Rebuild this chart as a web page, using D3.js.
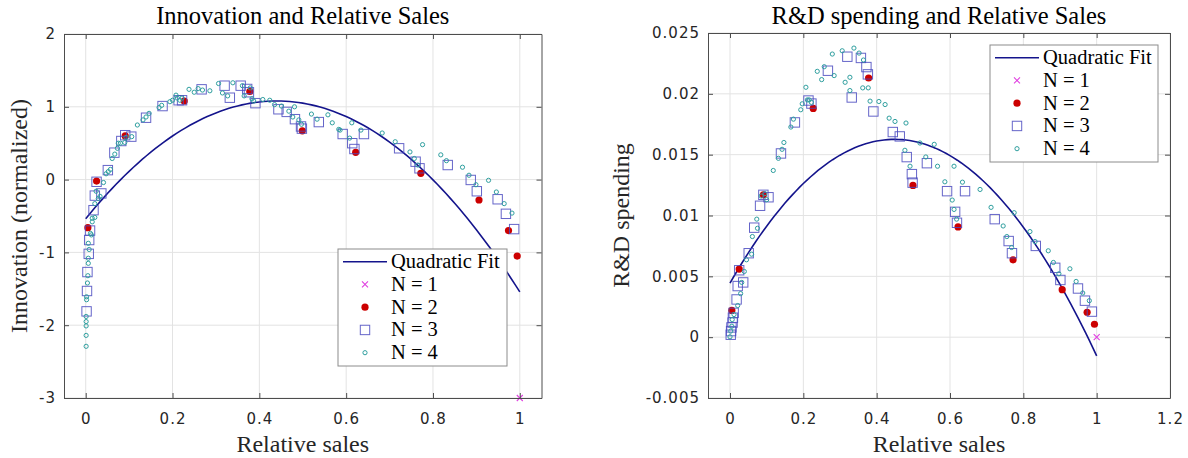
<!DOCTYPE html>
<html>
<head>
<meta charset="utf-8">
<script src="https://cdnjs.cloudflare.com/ajax/libs/d3/7.8.5/d3.min.js"></script>
<style>
  body { margin: 0; background: #fff; }
  svg { display: block; }
</style>
</head>
<body>
<svg id="root" width="1188" height="458"></svg>
<script>
// N = 1 / N = 2 / N = 3 firms (same relative sales in both panels)
const n1Sales = [1]
const n1Innov = [-3]
const n1RD = [0]

const n2Sales = [0.005, 0.025, 0.091, 0.227, 0.378, 0.499, 0.622, 0.772, 0.906, 0.974, 0.994]
const n2Innov = [-0.66, -0.02, 0.6, 1.08, 1.21, 0.67, 0.375, 0.086, -0.28, -0.7, -1.05]
const n2RD = [0.0022, 0.0056, 0.0117, 0.0188, 0.0213, 0.01247, 0.00906, 0.00636, 0.0039, 0.00205, 0.00106]

const n3Sales = [0.002, 0.003, 0.004, 0.007, 0.008, 0.01, 0.018, 0.021, 0.025, 0.036, 0.051, 0.066, 0.082, 0.091, 0.105,
  0.139, 0.177, 0.214, 0.222, 0.267, 0.32, 0.332, 0.357, 0.372, 0.376, 0.391, 0.444, 0.463, 0.482, 0.496, 0.498,
  0.537, 0.592, 0.614, 0.619, 0.641, 0.722, 0.76, 0.769, 0.834, 0.887, 0.901, 0.949, 0.968, 0.987]
const n3Innov = [-1.81, -1.53, -1.27, -1.02, -0.83, -0.7, -0.42, -0.22, -0.03, -0.19, 0.13, 0.37, 0.53, 0.61, 0.59,
  0.85, 1.01, 1.09, 1.09, 1.24, 1.29, 1.125, 1.29, 1.245, 1.2, 1.05, 0.966, 0.93, 0.83, 0.73, 0.7,
  0.79, 0.626, 0.5, 0.42, 0.626, 0.43, 0.246, 0.155, 0.2, -0.005, -0.16, -0.27, -0.47, -0.68]
const n3RD = [0.0002, 0.0005, 0.0008, 0.0012, 0.0016, 0.002, 0.0031, 0.0042, 0.0055, 0.0045, 0.0069, 0.009, 0.0108, 0.0117, 0.0115,
  0.0151, 0.01765, 0.01945, 0.0192, 0.0219, 0.02305, 0.0197, 0.02295, 0.0222, 0.0216, 0.01855, 0.01686, 0.0165, 0.0148, 0.0134, 0.0127,
  0.0143, 0.012, 0.0103, 0.0094, 0.012, 0.0097, 0.0079, 0.0069, 0.0075, 0.0057, 0.0047, 0.004, 0.003, 0.0021]

// N = 4 firms, left panel
const n4SalesL = [0.001, 0.001, 0.001, 0.001, 0.001, 0.002, 0.002, 0.004, 0.005, 0.006, 0.006, 0.008, 0.006, 0.011, 0.013,
  0.015, 0.021, 0.015, 0.021, 0.024, 0.029, 0.033, 0.041, 0.047, 0.052, 0.057, 0.061, 0.067, 0.073, 0.075, 0.08, 0.09,
  0.093, 0.106, 0.119, 0.132, 0.139, 0.146, 0.169, 0.175, 0.194, 0.2, 0.208, 0.211, 0.217, 0.222, 0.238, 0.25, 0.259,
  0.269, 0.286, 0.306, 0.315, 0.327, 0.339, 0.361, 0.365, 0.379, 0.383, 0.387, 0.408, 0.424, 0.435, 0.451, 0.468, 0.481,
  0.477, 0.491, 0.497, 0.52, 0.533, 0.558, 0.568, 0.583, 0.586, 0.608, 0.613, 0.634, 0.683, 0.713, 0.747, 0.757, 0.765,
  0.776, 0.818, 0.831, 0.868, 0.883, 0.899, 0.928, 0.946, 0.964, 0.982]
const n4Innov = [-2.29, -2.14, -2.01, -1.95, -1.88, -1.65, -1.61, -1.42, -1.32, -1.15, -1.08, -0.96, -0.875, -0.74, -0.76,
  -0.58, -0.52, -0.53, -0.33, -0.16, -0.26, -0.23, -0.04, 0.08, 0.11, 0.14, 0.29, 0.35, 0.43, 0.5, 0.5, 0.51,
  0.58, 0.59, 0.75, 0.82, 0.86, 0.91, 0.99, 1.02, 1.07, 1.09, 1.16, 1.12, 1.09, 1.12, 1.24, 1.2, 1.25,
  1.23, 1.22, 1.32, 1.19, 1.15, 1.33, 1.29, 1.15, 1.26, 1.11, 1.08, 1.1, 1.09, 1.03, 1.01, 0.94, 1.0,
  0.86, 0.82, 0.76, 0.9, 0.83, 0.89, 0.78, 0.69, 0.68, 0.57, 0.78, 0.68, 0.64, 0.52, 0.38, 0.29, 0.2,
  0.48, 0.34, 0.26, 0.17, 0.06, -0.07, -0.01, -0.17, -0.33, -0.46]

// N = 4 firms, right panel
const n4SalesR = [0.0, 0.002, 0.005, 0.006, 0.011, 0.021, 0.029, 0.032, 0.039, 0.045, 0.059, 0.061, 0.075, 0.073, 0.085,
  0.095, 0.1, 0.118, 0.132, 0.142, 0.147, 0.166, 0.173, 0.193, 0.197, 0.207, 0.211, 0.216, 0.222, 0.238, 0.25, 0.257,
  0.279, 0.284, 0.306, 0.314, 0.327, 0.327, 0.338, 0.352, 0.364, 0.362, 0.377, 0.382, 0.406, 0.423, 0.434, 0.45, 0.48,
  0.518, 0.557, 0.477, 0.491, 0.534, 0.566, 0.611, 0.586, 0.634, 0.682, 0.606, 0.611, 0.618, 0.712, 0.745, 0.755,
  0.768, 0.775, 0.818, 0.832, 0.868, 0.882, 0.897, 0.927, 0.944, 0.962, 0.98]
const n4RD = [0.00003, 0.0005, 0.0009, 0.00145, 0.00186, 0.0026, 0.00358, 0.0045, 0.0054, 0.00636, 0.00682, 0.00827, 0.00895, 0.0097, 0.0116,
  0.0118, 0.0113, 0.0137, 0.0147, 0.01544, 0.016, 0.01727, 0.01792, 0.01869, 0.01918, 0.02054, 0.0195, 0.0195, 0.0193, 0.02185, 0.02117, 0.02223,
  0.02327, 0.0215, 0.02354, 0.02095, 0.02136, 0.02027, 0.02376, 0.02335, 0.02278, 0.02049, 0.02049, 0.0194, 0.01937, 0.01912, 0.018, 0.01773, 0.0176,
  0.01596, 0.01585, 0.01536, 0.01405, 0.01481, 0.01405, 0.01405, 0.01277, 0.01274, 0.01214, 0.01127, 0.0105, 0.0097, 0.01067, 0.00914, 0.00827,
  0.00737, 0.01023, 0.00868, 0.00786, 0.0071, 0.00614, 0.00521, 0.00562, 0.00458, 0.00363, 0.003]

// quadratic fit coefficients [a, b, c]: y = a + b x + c x^2
const fitInnov = [-0.5385, 7.357, -8.36]
const fitRD = [0.004446, 0.05262, -0.0586]

const xTicksL = [0, 0.2, 0.4, 0.6, 0.8, 1]
const yTicksL = [-3, -2, -1, 0, 1, 2]
const xTicksR = [0, 0.2, 0.4, 0.6, 0.8, 1, 1.2]
const yTicksR = [-0.005, 0, 0.005, 0.01, 0.015, 0.02, 0.025]

const legendLabels = ['Quadratic Fit', 'N = 1', 'N = 2', 'N = 3', 'N = 4']

const serif = '"Liberation Serif", "DejaVu Serif", serif'
const sans = '"DejaVu Sans", "Liberation Sans", sans-serif'
const colFit = '#14148c'
const colN1 = '#e040e0'
const colN2 = '#cc0000'
const colN3 = '#4a4ac0'
const colN4 = '#2f9f9f'

let root = d3.select('#root')

const zip = (xs, ys) => xs.map((x, i) => [x, ys[i]])

function drawMarker (g, kind, cx, cy) {
  if (kind === 'n1') {
    g.append('path')
      .attr('d', `M${cx - 3},${cy - 3}L${cx + 3},${cy + 3}M${cx - 3},${cy + 3}L${cx + 3},${cy - 3}`)
      .attr('stroke', colN1).attr('stroke-width', 1.1).attr('fill', 'none')
  } else if (kind === 'n2') {
    g.append('circle').attr('cx', cx).attr('cy', cy).attr('r', 3.6).attr('fill', colN2)
  } else if (kind === 'n3') {
    g.append('rect').attr('x', cx - 4.7).attr('y', cy - 4.7).attr('width', 9.4).attr('height', 9.4)
      .attr('fill', 'none').attr('stroke', colN3).attr('stroke-width', 1).attr('stroke-opacity', 0.85)
  } else {
    g.append('circle').attr('cx', cx).attr('cy', cy).attr('r', 2.1)
      .attr('fill', 'none').attr('stroke', colN4).attr('stroke-width', 1)
  }
}

function drawPanel (p) {
  let x = d3.scaleLinear().domain(p.xDomain).range([p.left, p.right])
  let y = d3.scaleLinear().domain(p.yDomain).range([p.bottom, p.top])
  let g = root.append('g')

  // grid
  g.selectAll('.gx').data(p.xTicks).enter().append('line')
    .attr('x1', (d) => x(d)).attr('x2', (d) => x(d))
    .attr('y1', p.top).attr('y2', p.bottom)
    .attr('stroke', '#e3e3e3').attr('stroke-width', 1)
  g.selectAll('.gy').data(p.yTicks).enter().append('line')
    .attr('x1', p.left).attr('x2', p.right)
    .attr('y1', (d) => y(d)).attr('y2', (d) => y(d))
    .attr('stroke', '#e3e3e3').attr('stroke-width', 1)

  // fit line
  let xs = d3.range(0, 1.0001, 0.01)
  let c = p.fit
  g.append('path')
    .datum(xs.map((v) => [v, c[0] + c[1] * v + c[2] * v * v]))
    .attr('d', d3.line().x((d) => x(d[0])).y((d) => y(d[1])))
    .attr('fill', 'none').attr('stroke', colFit).attr('stroke-width', 1.6)

  // points
  p.series.forEach((s) => {
    zip(s.xs, s.ys).forEach((d) => drawMarker(g, s.kind, x(d[0]), y(d[1])))
  })

  // axes (ticks inward, on all four sides)
  let fmt = (d) => String(d)
  let axB = g.append('g').attr('transform', `translate(0,${p.bottom})`)
    .call(d3.axisBottom(x).tickValues(p.xTicks).tickFormat(fmt).tickSizeInner(-5).tickSizeOuter(0).tickPadding(15))
  let axL = g.append('g').attr('transform', `translate(${p.left},0)`)
    .call(d3.axisLeft(y).tickValues(p.yTicks).tickFormat(fmt).tickSizeInner(-5).tickSizeOuter(0).tickPadding(8))
  g.append('g').attr('transform', `translate(0,${p.top})`)
    .call(d3.axisTop(x).tickValues(p.xTicks).tickFormat('').tickSizeInner(-5).tickSizeOuter(0))
  g.append('g').attr('transform', `translate(${p.right},0)`)
    .call(d3.axisRight(y).tickValues(p.yTicks).tickFormat('').tickSizeInner(-5).tickSizeOuter(0))
  g.selectAll('.domain').attr('stroke', '#4d4d4d')
  g.selectAll('.tick line').attr('stroke', '#4d4d4d')
  ;[axB, axL].forEach((a) => a.selectAll('text')
    .attr('font-family', sans).attr('font-size', 15).attr('letter-spacing', 1).attr('fill', '#262626'))

  // titles
  g.append('text').attr('x', (p.left + p.right) / 2).attr('y', 24)
    .attr('text-anchor', 'middle').attr('font-family', serif).attr('font-size', 24.5)
    .attr('fill', '#000').text(p.title)
  g.append('text').attr('x', (p.left + p.right) / 2).attr('y', 452)
    .attr('text-anchor', 'middle').attr('font-family', serif).attr('font-size', 24)
    .attr('fill', '#262626').text(p.xLabel)
  g.append('text')
    .attr('transform', `translate(${p.yLabelX},${(p.top + p.bottom) / 2}) rotate(-90)`)
    .attr('text-anchor', 'middle').attr('font-family', serif).attr('font-size', 24)
    .attr('fill', '#262626').text(p.yLabel)

  // legend
  let L = p.legend
  let lg = g.append('g')
  lg.append('rect').attr('x', L.x).attr('y', L.y).attr('width', L.w).attr('height', L.h)
    .attr('fill', '#fff').attr('stroke', '#8c8c8c').attr('stroke-width', 1)
  let kinds = ['fit', 'n1', 'n2', 'n3', 'n4']
  legendLabels.forEach((lab, i) => {
    let ry = L.y + 12.7 + i * 22.75
    if (kinds[i] === 'fit') {
      lg.append('line').attr('x1', L.x + 5).attr('x2', L.x + 49).attr('y1', ry).attr('y2', ry)
        .attr('stroke', colFit).attr('stroke-width', 1.6)
    } else {
      drawMarker(lg, kinds[i], L.x + 27, ry)
    }
    lg.append('text').attr('x', L.x + 53).attr('y', ry + 6.5)
      .attr('font-family', serif).attr('font-size', 20.5).attr('fill', '#000').text(lab)
  })
}

drawPanel({
  left: 64, right: 541.5, top: 34, bottom: 398,
  xDomain: [-0.05, 1.05], yDomain: [-3, 2],
  xTicks: xTicksL, yTicks: yTicksL,
  fit: fitInnov,
  series: [
    { kind: 'n1', xs: n1Sales, ys: n1Innov },
    { kind: 'n2', xs: n2Sales, ys: n2Innov },
    { kind: 'n3', xs: n3Sales, ys: n3Innov },
    { kind: 'n4', xs: n4SalesL, ys: n4Innov }
  ],
  title: 'Innovation and Relative Sales',
  xLabel: 'Relative sales',
  yLabel: 'Innovation (normalized)',
  yLabelX: 27,
  legend: { x: 338, y: 249, w: 169, h: 117 }
})

drawPanel({
  left: 708, right: 1170, top: 33, bottom: 398,
  xDomain: [-0.06, 1.2], yDomain: [-0.005, 0.025],
  xTicks: xTicksR, yTicks: yTicksR,
  fit: fitRD,
  series: [
    { kind: 'n1', xs: n1Sales, ys: n1RD },
    { kind: 'n2', xs: n2Sales, ys: n2RD },
    { kind: 'n3', xs: n3Sales, ys: n3RD },
    { kind: 'n4', xs: n4SalesR, ys: n4RD }
  ],
  title: 'R&D spending and Relative Sales',
  xLabel: 'Relative sales',
  yLabel: 'R&D spending',
  yLabelX: 629,
  legend: { x: 990, y: 45, w: 168, h: 117 }
})
</script>
</body>
</html>
